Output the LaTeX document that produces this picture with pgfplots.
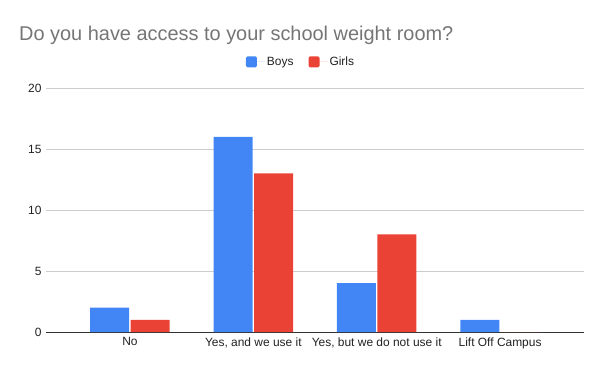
\documentclass[border=0pt]{standalone}
\usepackage{pgfplots}
\pgfplotsset{compat=1.18}
\usepackage{fontspec}
\setmainfont{Liberation Sans}
\definecolor{boys}{HTML}{4285F4}
\definecolor{girls}{HTML}{EA4335}
\definecolor{titlegray}{HTML}{757575}
\definecolor{gridgray}{HTML}{CCCCCC}
\definecolor{labelgray}{HTML}{222222}
\definecolor{axisdark}{HTML}{333333}
\begin{document}
\begin{tikzpicture}[x=1bp,y=1bp]
\useasboundingbox (0,0) rectangle (600,371);
\node[anchor=base west, text=titlegray, font=\fontsize{20}{22}\selectfont, inner sep=0] at (19,331) {Do you have access to your school weight room?};
\begin{axis}[
  at={(46bp,39bp)}, anchor=south west,
  scale only axis, width=538bp, height=244bp,
  ybar=1.5bp, bar width=39bp,
  xmin=-0.68, xmax=3.68, ymin=0, ymax=20,
  xtick=data,
  xticklabels={No, {Yes, and we use it}, {Yes, but we do not use it}, Lift Off Campus},
  ytick={0,5,10,15,20},
  ymajorgrids, grid style={gridgray, line width=0.7bp},
  axis x line*=bottom, axis y line*=left,
  x axis line style={-, axisdark, line width=0.9bp},
  y axis line style={draw=none},
  major tick length=0pt,
  tick label style={font=\fontsize{12}{14}\selectfont, text=labelgray},
  /pgf/number format/assume math mode=true,
  yticklabel style={xshift=-1bp},
  xticklabel style={yshift=-2bp},
  legend columns=2,
  legend style={at={(0.474,1.107)}, anchor=center, draw=none, font=\fontsize{12}{14}\selectfont, text=labelgray,
    /tikz/every even column/.append style={column sep=13bp}},
  legend image code/.code={\path (0bp,0bp) -- (19bp,0bp); \fill[#1, rounded corners=1.5bp] (0bp,-5.5bp) rectangle (11bp,5.5bp);},
]
\addplot[draw=none, fill=boys] coordinates {(0,2) (1,16) (2,4) (3,1)};
\addplot[draw=none, fill=girls] coordinates {(0,1) (1,13) (2,8) (3,0)};
\legend{Boys, Girls}
\end{axis}
\end{tikzpicture}
\end{document}
